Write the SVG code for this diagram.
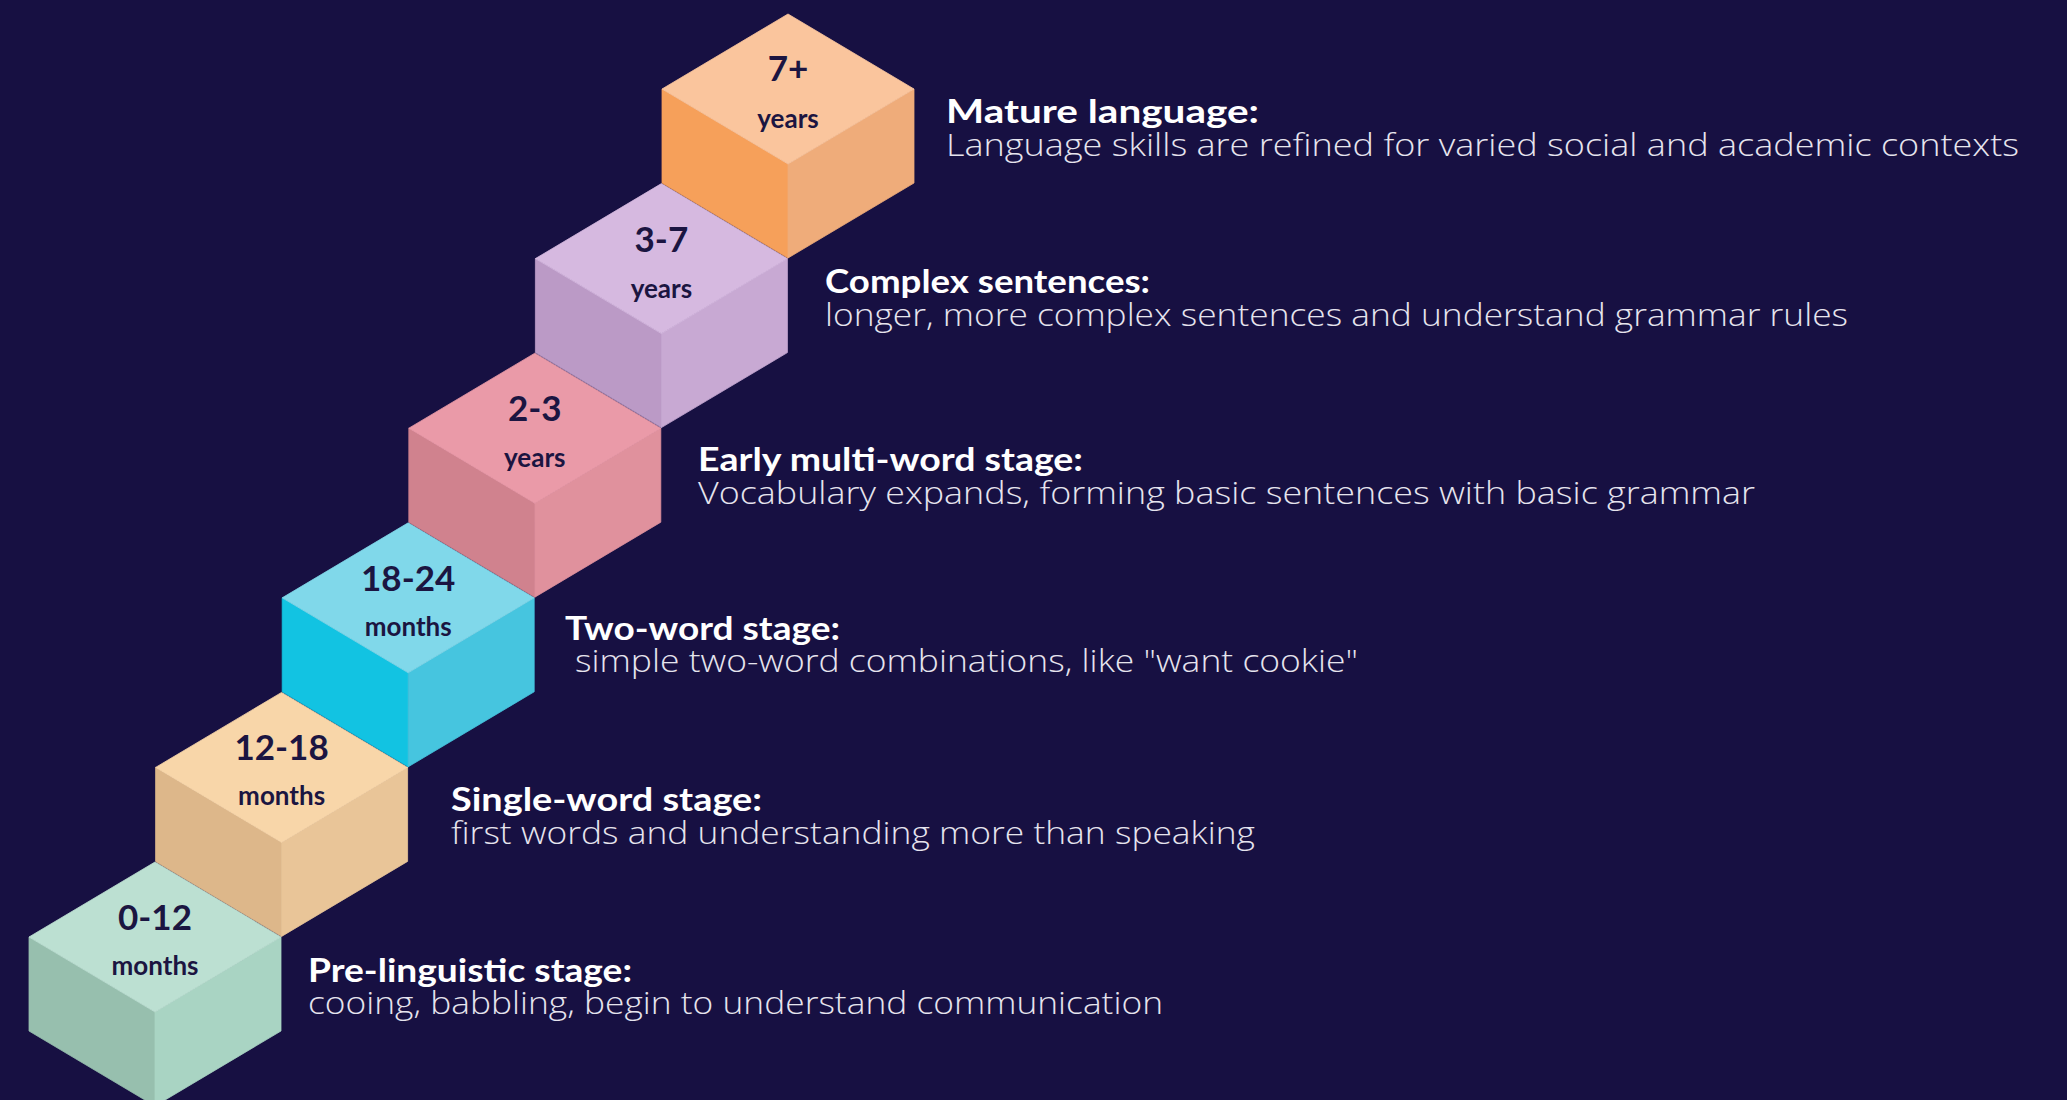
<svg xmlns="http://www.w3.org/2000/svg" xmlns:xlink="http://www.w3.org/1999/xlink" width="2067" height="1100" viewBox="0 0 2067 1100">
  <defs>
    <style>
      .title { font-family: "Lato", "Liberation Sans", sans-serif; font-weight: 700; font-size: 32px; fill: #FFFFFF; }
      .desc { font-family: "Open Sans", "Lato", "Liberation Sans", sans-serif; font-weight: 300; font-size: 31px; fill: #E6E4EE; }
      .num { font-family: "Lato", "Liberation Sans", sans-serif; font-weight: 700; font-size: 35px; fill: #1B1541; text-anchor: middle; }
      .unit { font-family: "Lato", "Liberation Sans", sans-serif; font-weight: 700; font-size: 26px; fill: #1B1541; text-anchor: middle; }
      use { stroke-width: 0.8; stroke-linejoin: round; }
      .c1 .t { fill: #BCE0D2; stroke: #BCE0D2; } .c1 .l { fill: #97BFAE; stroke: #97BFAE; } .c1 .r { fill: #A9D4C3; stroke: #A9D4C3; }
      .c2 .t { fill: #F8D6A9; stroke: #F8D6A9; } .c2 .l { fill: #DDB78A; stroke: #DDB78A; } .c2 .r { fill: #E9C598; stroke: #E9C598; }
      .c3 .t { fill: #80D8EA; stroke: #80D8EA; } .c3 .l { fill: #12C3E2; stroke: #12C3E2; } .c3 .r { fill: #46C5DF; stroke: #46C5DF; }
      .c4 .t { fill: #EA9AA8; stroke: #EA9AA8; } .c4 .l { fill: #D0828E; stroke: #D0828E; } .c4 .r { fill: #E0919D; stroke: #E0919D; }
      .c5 .t { fill: #D6B9E0; stroke: #D6B9E0; } .c5 .l { fill: #BB9AC6; stroke: #BB9AC6; } .c5 .r { fill: #C8A9D3; stroke: #C8A9D3; }
      .c6 .t { fill: #FAC59D; stroke: #FAC59D; } .c6 .l { fill: #F6A05A; stroke: #F6A05A; } .c6 .r { fill: #EFAC7A; stroke: #EFAC7A; }
    </style>
    <path id="topFace" d="M0,-75 L126,0 L0,75 L-126,0 Z"/>
    <path id="leftFace" d="M-126,0 L0,75 L0,169 L-126,94 Z"/>
    <path id="rightFace" d="M0,75 L126,0 L126,94 L0,169 Z"/>
  </defs>
  <rect width="2067" height="1100" fill="#171042"/>
  <g id="connectors"/>

  <g id="stage-pre-linguistic">
    <g class="c1" transform="translate(155,937)">
      <use href="#leftFace" class="l"/>
      <use href="#rightFace" class="r"/>
      <use href="#topFace" class="t"/>
    </g>
    <text class="num" x="155" y="930">0-12</text>
    <text class="unit" x="155" y="975">months</text>
    <text class="title" x="308" y="982" textLength="324" lengthAdjust="spacingAndGlyphs">Pre-linguistic stage:</text>
    <text class="desc" x="308" y="1014" textLength="855" lengthAdjust="spacingAndGlyphs">cooing, babbling, begin to understand communication</text>
  </g>

  <g id="stage-single-word">
    <g class="c2" transform="translate(281.6,767.4)">
      <use href="#leftFace" class="l"/>
      <use href="#rightFace" class="r"/>
      <use href="#topFace" class="t"/>
    </g>
    <text class="num" x="281.6" y="760.4">12-18</text>
    <text class="unit" x="281.6" y="805.4">months</text>
    <text class="title" x="451" y="811" textLength="311" lengthAdjust="spacingAndGlyphs">Single-word stage:</text>
    <text class="desc" x="451" y="844" textLength="804" lengthAdjust="spacingAndGlyphs">first words and understanding more than speaking</text>
  </g>

  <g id="stage-two-word">
    <g class="c3" transform="translate(408.2,597.8)">
      <use href="#leftFace" class="l"/>
      <use href="#rightFace" class="r"/>
      <use href="#topFace" class="t"/>
    </g>
    <text class="num" x="408.2" y="590.8">18-24</text>
    <text class="unit" x="408.2" y="635.8">months</text>
    <text class="title" x="565" y="640" textLength="275" lengthAdjust="spacingAndGlyphs">Two-word stage:</text>
    <text class="desc" x="575" y="672" textLength="783" lengthAdjust="spacingAndGlyphs">simple two-word combinations, like "want cookie"</text>
  </g>

  <g id="stage-early-multi-word">
    <g class="c4" transform="translate(534.8,428.2)">
      <use href="#leftFace" class="l"/>
      <use href="#rightFace" class="r"/>
      <use href="#topFace" class="t"/>
    </g>
    <text class="num" x="534.8" y="421.2">2-3</text>
    <text class="unit" x="534.8" y="467.2">years</text>
    <text class="title" x="698" y="471" textLength="385" lengthAdjust="spacingAndGlyphs">Early multi-word stage:</text>
    <text class="desc" x="698" y="504" textLength="1057" lengthAdjust="spacingAndGlyphs">Vocabulary expands, forming basic sentences with basic grammar</text>
  </g>

  <g id="stage-complex-sentences">
    <g class="c5" transform="translate(661.4,258.6)">
      <use href="#leftFace" class="l"/>
      <use href="#rightFace" class="r"/>
      <use href="#topFace" class="t"/>
    </g>
    <text class="num" x="661.4" y="251.6">3-7</text>
    <text class="unit" x="661.4" y="297.6">years</text>
    <text class="title" x="825" y="293" textLength="325" lengthAdjust="spacingAndGlyphs">Complex sentences:</text>
    <text class="desc" x="825" y="326" textLength="1023" lengthAdjust="spacingAndGlyphs">longer, more complex sentences and understand grammar rules</text>
  </g>

  <g id="stage-mature-language">
    <g class="c6" transform="translate(788,89)">
      <use href="#leftFace" class="l"/>
      <use href="#rightFace" class="r"/>
      <use href="#topFace" class="t"/>
    </g>
    <text class="num" x="788" y="81">7+</text>
    <text class="unit" x="788" y="128">years</text>
    <text class="title" x="946" y="123" textLength="313" lengthAdjust="spacingAndGlyphs">Mature language:</text>
    <text class="desc" x="946" y="156" textLength="1073" lengthAdjust="spacingAndGlyphs">Language skills are refined for varied social and academic contexts</text>
  </g>
</svg>
